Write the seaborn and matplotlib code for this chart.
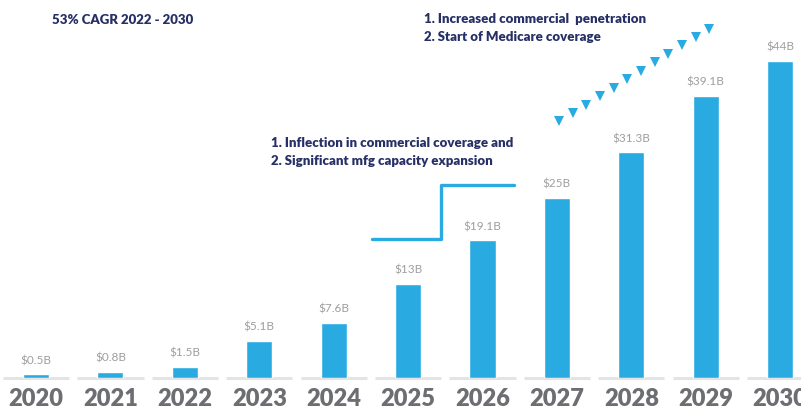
import numpy as np
import matplotlib
matplotlib.use("Agg")
import matplotlib.pyplot as plt
import seaborn as sns
import pandas as pd

sns.set_theme(style="white")
plt.rcParams['font.family'] = ['Lato', 'DejaVu Sans']

years = ['2020', '2021', '2022', '2023', '2024', '2025', '2026', '2027', '2028', '2029', '2030']
values = [0.5, 0.8, 1.5, 5.1, 7.6, 13, 19.1, 25, 31.3, 39.1, 44]
labels = ['$0.5B', '$0.8B', '$1.5B', '$5.1B', '$7.6B', '$13B', '$19.1B', '$25B', '$31.3B', '$39.1B', '$44B']

bar_color = '#29abe2'
navy = '#262f66'
label_gray = '#9e9e9e'
year_gray = '#6d6e71'

W, H = 801, 410
fig = plt.figure(figsize=(W / 100, H / 100), dpi=100)
ax = fig.add_axes([0, 31 / H, 1, 1 - 31 / H])

df = pd.DataFrame({'year': years, 'value': values})
sns.barplot(data=df, x='year', y='value', color=bar_color, width=0.35,
            saturation=1, ax=ax, zorder=3)

# segmented baseline
for i in range(len(years)):
    ax.plot([i - 0.445, i + 0.445], [0, 0], color='#e4e4e4', lw=2.2,
            solid_capstyle='butt', zorder=2, clip_on=False)

for i, (v, lab) in enumerate(zip(values, labels)):
    ax.text(i, v + 1.3, lab, ha='center', va='bottom', fontsize=8.5,
            color=label_gray, zorder=4)

ax.set_xlim(-0.484, 10.28)
ax.set_ylim(0, 52.6)
ax.set_xlabel('')
ax.set_ylabel('')
ax.set_yticks([])
ax.tick_params(axis='x', length=0, pad=6.5, labelsize=17, labelcolor=year_gray)
for t in ax.get_xticklabels():
    t.set_fontweight('heavy')
for s in ax.spines.values():
    s.set_visible(False)

# step line annotation
step_x = [4.52, 5.44, 5.44, 6.42]
step_y = [19.3, 19.3, 26.8, 26.8]
ax.plot(step_x, step_y, color=bar_color, lw=2.4, zorder=3)

# triangle trail
tri_x = np.linspace(7.03, 9.05, 12)
tri_y = np.linspace(35.6, 48.5, 12)
ax.plot(tri_x, tri_y, linestyle='none', marker='v', markersize=6.5,
        color=bar_color, markeredgewidth=0, zorder=3)

def ftext(px, py, s):
    fig.text(px / W, 1 - py / H, s, ha='left', va='center', fontsize=9.5,
             fontweight='heavy', color=navy)

ftext(52, 20, '53% CAGR 2022 - 2030')
ftext(424, 19, '1. Increased commercial  penetration')
ftext(424, 37, '2. Start of Medicare coverage')
ftext(271, 143, '1. Inflection in commercial coverage and')
ftext(271, 161, '2. Significant mfg capacity expansion')

fig.savefig('out.png', dpi=100)
